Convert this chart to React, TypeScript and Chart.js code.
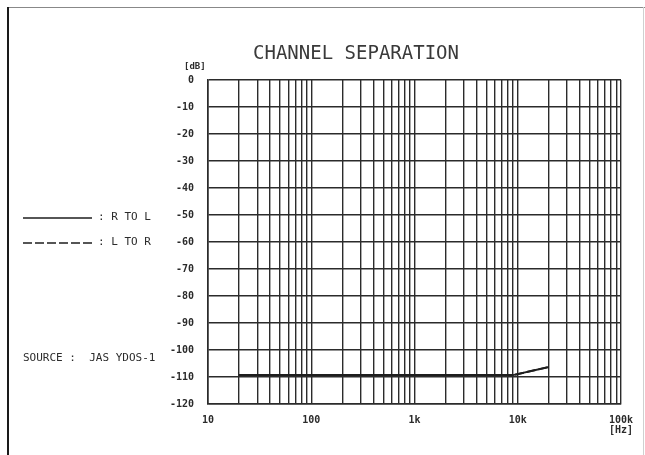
import React, { useEffect, useRef } from "react";
import { Chart, registerables } from "chart.js";

Chart.register(...registerables);

// ---- data ----
const TITLE = "CHANNEL SEPARATION";
const Y_UNIT = "[dB]";
const SOURCE_TEXT = "SOURCE :  JAS YDOS-1";
const SERIES_NAMES = [": R TO L", ": L TO R"];

const frequencies = [20, 1000, 9000, 20000];
const rToL = [-109.3, -109.3, -109.3, -106.3];
const lToR = [-109.3, -109.3, -109.3, -106.3];

const DECADES = [10, 100, 1000, 10000];
const MULTIPLIERS = [1, 2, 3, 4, 5, 6, 7, 8, 9];
const X_MAX = 100000;
const X_TICK_LABELS: Record<number, string | string[]> = {
  10: "10",
  100: "100",
  1000: "1k",
  10000: "10k",
  100000: ["100k", "[Hz]"],
};
const Y_MIN = -120;
const Y_MAX = 0;
const Y_STEP = 10;

const xTickValues: number[] = [];
DECADES.forEach((d) => MULTIPLIERS.forEach((m) => xTickValues.push(d * m)));
xTickValues.push(X_MAX);

const INK = "#2b2b2b";
const MONO = '"DejaVu Sans Mono", monospace';

const decorPlugin = {
  id: "decor",
  beforeDraw(chart: any) {
    const { ctx, width, height } = chart;
    ctx.save();
    ctx.fillStyle = "#ffffff";
    ctx.fillRect(0, 0, width, height);
    ctx.restore();
  },
  afterDraw(chart: any) {
    const { ctx } = chart;
    ctx.save();
    // outer frame
    ctx.strokeStyle = "#888";
    ctx.lineWidth = 1;
    ctx.beginPath();
    ctx.moveTo(7, 7.5);
    ctx.lineTo(645, 7.5);
    ctx.stroke();
    ctx.strokeStyle = "#d0d0d0";
    ctx.beginPath();
    ctx.moveTo(643.5, 7);
    ctx.lineTo(643.5, 455);
    ctx.stroke();
    ctx.strokeStyle = "#1a1a1a";
    ctx.lineWidth = 2;
    ctx.beginPath();
    ctx.moveTo(8, 7);
    ctx.lineTo(8, 455);
    ctx.stroke();

    // title
    ctx.fillStyle = "#3a3a3a";
    ctx.font = `19px ${MONO}`;
    ctx.textAlign = "center";
    ctx.textBaseline = "middle";
    ctx.fillText(TITLE, 356, 54);

    // y unit
    ctx.font = `bold 9px ${MONO}`;
    ctx.textAlign = "left";
    ctx.fillStyle = INK;
    ctx.fillText(Y_UNIT, 184, 67);

    // legend
    const ds = chart.data.datasets;
    const rows = [217, 242];
    rows.forEach((y, i) => {
      ctx.save();
      ctx.strokeStyle = ds[i].borderColor;
      ctx.lineWidth = 1.5;
      ctx.setLineDash(ds[i].borderDash || []);
      ctx.beginPath();
      ctx.moveTo(23, y + 1);
      ctx.lineTo(92, y + 1);
      ctx.stroke();
      ctx.restore();
      ctx.font = `11px ${MONO}`;
      ctx.fillStyle = INK;
      ctx.textAlign = "left";
      ctx.textBaseline = "middle";
      ctx.fillText(SERIES_NAMES[i], 98, y);
    });

    // source
    ctx.font = `11px ${MONO}`;
    ctx.fillStyle = INK;
    ctx.textAlign = "left";
    ctx.textBaseline = "middle";
    ctx.fillText(SOURCE_TEXT, 23, 358);
    ctx.restore();
  },
};

export default function App() {
  const ref = useRef<HTMLCanvasElement | null>(null);

  useEffect(() => {
    if (!ref.current) return;
    const chart = new Chart(ref.current, {
      type: "line",
      data: {
        datasets: [
          {
            label: SERIES_NAMES[0],
            data: frequencies.map((f, i) => ({ x: f, y: rToL[i] })),
            borderColor: "#1e1e1e",
            borderWidth: 2,
            pointRadius: 0,
            tension: 0,
          },
          {
            label: SERIES_NAMES[1],
            data: frequencies.map((f, i) => ({ x: f, y: lToR[i] })),
            borderColor: "#1e1e1e",
            borderWidth: 2,
            borderDash: [9, 3],
            pointRadius: 0,
            tension: 0,
          },
        ],
      },
      options: {
        responsive: false,
        animation: false,
        devicePixelRatio: 1,
        layout: { padding: { left: 148, right: 24, top: 80, bottom: 11 } },
        plugins: {
          legend: { display: false },
          title: { display: false },
          tooltip: { enabled: false },
        },
        scales: {
          x: {
            type: "logarithmic",
            min: 10,
            max: X_MAX,
            afterBuildTicks: (scale: any) => {
              scale.ticks = xTickValues.map((v) => ({ value: v }));
            },
            afterFit: (scale: any) => {
              scale.height = 40;
            },
            grid: {
              color: INK,
              lineWidth: 1.4,
              drawTicks: false,
            },
            border: { color: INK, width: 1.6 },
            ticks: {
              autoSkip: false,
              maxRotation: 0,
              padding: 11,
              color: INK,
              font: { family: MONO, size: 10, weight: "bold", lineHeight: 1.0 },
              callback: (v: any) => X_TICK_LABELS[Number(v)] ?? "",
            },
          },
          y: {
            type: "linear",
            min: Y_MIN,
            max: Y_MAX,
            afterFit: (scale: any) => {
              scale.width = 60;
            },
            grid: {
              color: INK,
              lineWidth: 1.4,
              drawTicks: false,
            },
            border: { color: INK, width: 1.6 },
            ticks: {
              stepSize: Y_STEP,
              padding: 14,
              color: INK,
              font: { family: MONO, size: 10, weight: "bold" },
              callback: (v: any) => String(v),
            },
          },
        },
      },
      plugins: [decorPlugin],
    } as any);
    return () => chart.destroy();
  }, []);

  return (
    <div style={{ position: "fixed", left: 0, top: 0, width: 645, height: 455, background: "#fff" }}>
      <canvas ref={ref} width={645} height={455} style={{ display: "block" }} />
    </div>
  );
}
